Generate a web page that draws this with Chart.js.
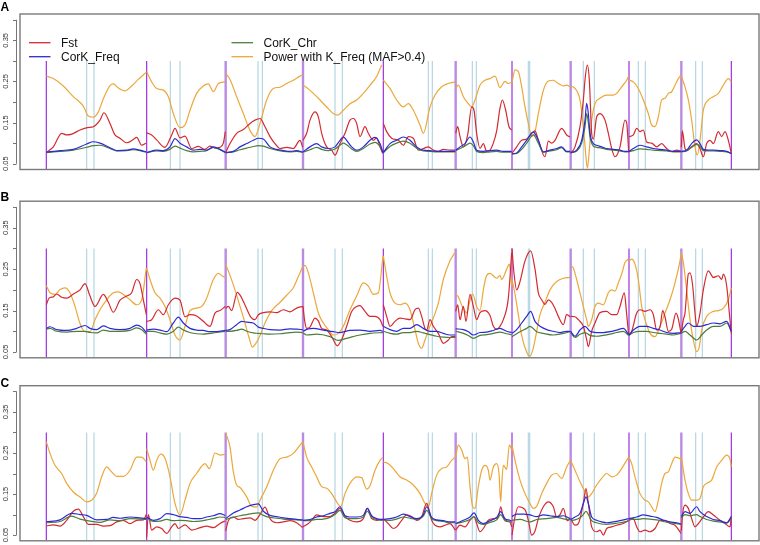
<!DOCTYPE html>
<html><head><meta charset="utf-8">
<script src="https://cdn.jsdelivr.net/npm/chart.js@4.4.1/dist/chart.umd.min.js"></script>
<style>
html,body{margin:0;padding:0;background:#fff;width:760px;height:545px;overflow:hidden;position:relative}
canvas{position:absolute;left:0}
</style></head><body>
<canvas id="cA" width="760" height="180" style="top:0px"></canvas>
<canvas id="cB" width="760" height="182" style="top:180px"></canvas>
<canvas id="cC" width="760" height="183" style="top:362px"></canvas>
<script>
// ---------- DATA ----------
const panelLetters = ['A','B','C'];
const seriesNames = ['Fst','CorK_Freq','CorK_Chr','Power with K_Freq (MAF>0.4)'];
const chrBoundaries = [0,301,538,770,1011,1228,1397,1573,1748,1905,2055]; // Mb, cumulative
const centromeres = [121,143,372,401,635,648,866,888,1146,1158,1278,1290,1446,1450,1611,1644,1776,1797,1948,1968];
const yTicks = [0.05,0.10,0.15,0.20,0.25,0.30,0.35,0.40];
const yTickLabels = ['0.05','0.15','0.25','0.35'];

// Panel A
const A_fst = [
[[0,.078],[21,.091],[46,.124],[61,.12],[76,.122],[101,.132],[123,.138],[141,.14],[161,.156],[173,.174],[191,.148],[206,.12],[221,.112],[241,.101],[261,.109],[271,.114],[286,.095],[299,.10]],
[[301,.125],[316,.12],[331,.108],[356,.09],[376,.12],[386,.136],[401,.113],[416,.117],[436,.087],[456,.092],[476,.085],[491,.093],[506,.088],[521,.09],[531,.1],[537,.128]],
[[538,.077],[551,.099],[571,.124],[591,.133],[611,.148],[626,.156],[641,.16],[656,.14],[671,.116],[686,.099],[701,.087],[721,.09],[741,.087],[761,.107],[769,.09]],
[[770,.107],[781,.124],[791,.156],[806,.176],[816,.164],[826,.124],[841,.091],[856,.083],[866,.071],[881,.099],[896,.124],[911,.156],[921,.16],[931,.148],[941,.116],[956,.14],[966,.124],[981,.107],[991,.113],[1001,.091],[1009,.075]],
[[1011,.148],[1021,.128],[1036,.112],[1056,.107],[1071,.095],[1086,.116],[1101,.112],[1116,.083],[1131,.087],[1146,.091],[1161,.083],[1176,.08],[1191,.085],[1211,.083],[1226,.083]],
[[1228,.124],[1234,.14],[1241,.116],[1251,.091],[1264,.12],[1276,.188],[1283,.18],[1291,.124],[1301,.087],[1311,.099],[1321,.08],[1331,.083],[1341,.1],[1351,.13],[1361,.185],[1368,.205],[1378,.18],[1388,.14],[1396,.132]],
[[1397,.075],[1411,.091],[1426,.107],[1441,.11],[1456,.124],[1466,.13],[1476,.107],[1496,.067],[1506,.105],[1516,.1],[1526,.107],[1546,.136],[1561,.12],[1571,.115]],
[[1573,.075],[1586,.091],[1601,.14],[1611,.205],[1617,.262],[1623,.29],[1629,.253],[1636,.124],[1641,.11],[1651,.164],[1661,.172],[1676,.156],[1686,.124],[1696,.087],[1706,.067],[1721,.091],[1736,.156],[1741,.15],[1747,.08]],
[[1748,.116],[1761,.12],[1771,.136],[1781,.128],[1791,.132],[1801,.103],[1816,.1],[1831,.091],[1846,.099],[1861,.087],[1876,.08],[1891,.083],[1904,.08]],
[[1905,.09],[1908,.13],[1916,.087],[1921,.083],[1936,.091],[1951,.099],[1961,.087],[1971,.067],[1981,.099],[1991,.107],[2001,.099],[2016,.128],[2026,.116],[2036,.128],[2046,.107],[2055,.075]]
];
const A_freq = [
[[0,.078],[41,.082],[81,.085],[121,.098],[141,.1035],[161,.10],[191,.089],[211,.082],[241,.083],[261,.086],[281,.083],[299,.079]],
[[301,.077],[331,.083],[351,.082],[371,.091],[386,.111],[401,.10],[421,.091],[441,.083],[461,.085],[481,.083],[501,.091],[521,.085],[537,.078]],
[[538,.077],[561,.08],[581,.091],[601,.099],[621,.107],[636,.112],[651,.11],[671,.091],[691,.085],[711,.082],[731,.08],[751,.082],[769,.078]],
[[770,.079],[791,.091],[811,.099],[826,.091],[846,.087],[866,.091],[881,.107],[891,.115],[901,.107],[916,.091],[931,.083],[951,.091],[971,.107],[986,.114],[1001,.099],[1010,.077]],
[[1011,.077],[1031,.099],[1051,.107],[1071,.115],[1091,.107],[1111,.091],[1131,.083],[1151,.082],[1171,.08],[1191,.08],[1211,.08],[1227,.08]],
[[1228,.083],[1241,.091],[1256,.099],[1271,.115],[1281,.103],[1291,.083],[1311,.08],[1331,.082],[1351,.083],[1371,.08],[1396,.08]],
[[1397,.074],[1411,.076],[1426,.091],[1441,.107],[1461,.127],[1476,.107],[1491,.079],[1511,.083],[1531,.087],[1546,.091],[1561,.08],[1572,.08]],
[[1573,.077],[1591,.083],[1606,.107],[1616,.156],[1621,.197],[1626,.172],[1631,.124],[1641,.099],[1651,.095],[1666,.091],[1681,.087],[1701,.085],[1721,.083],[1736,.08],[1747,.08]],
[[1748,.08],[1761,.087],[1781,.095],[1801,.091],[1821,.087],[1841,.085],[1861,.083],[1881,.08],[1904,.08]],
[[1905,.08],[1921,.083],[1936,.099],[1951,.108],[1961,.099],[1971,.085],[1986,.083],[2001,.083],[2021,.082],[2041,.08],[2055,.075]]
];
const A_chr = [
[[0,.077],[41,.08],[81,.083],[121,.09],[141,.094],[161,.095],[191,.087],[211,.081],[241,.082],[261,.084],[281,.082],[299,.078]],
[[301,.077],[331,.081],[351,.08],[371,.085],[386,.093],[401,.088],[421,.082],[441,.079],[461,.08],[481,.082],[501,.09],[521,.084],[537,.077]],
[[538,.077],[561,.079],[581,.084],[601,.088],[621,.092],[636,.094],[651,.093],[671,.087],[691,.083],[711,.08],[731,.079],[751,.08],[769,.078]],
[[770,.078],[791,.084],[811,.09],[826,.085],[846,.082],[866,.086],[881,.095],[891,.1],[901,.096],[916,.086],[931,.08],[951,.087],[971,.098],[986,.102],[1001,.092],[1010,.077]],
[[1011,.077],[1031,.092],[1051,.1],[1071,.105],[1091,.1],[1111,.088],[1131,.081],[1151,.08],[1171,.079],[1191,.079],[1211,.079],[1227,.079]],
[[1228,.082],[1241,.087],[1256,.093],[1271,.1],[1281,.094],[1291,.08],[1311,.077],[1331,.079],[1351,.08],[1371,.078],[1396,.078]],
[[1397,.074],[1411,.075],[1426,.085],[1441,.1],[1461,.12],[1476,.1],[1491,.078],[1511,.081],[1531,.084],[1546,.089],[1561,.079],[1572,.079]],
[[1573,.077],[1591,.081],[1606,.1],[1616,.14],[1621,.172],[1626,.15],[1631,.115],[1641,.093],[1651,.09],[1666,.088],[1681,.085],[1701,.083],[1721,.081],[1736,.079],[1747,.079]],
[[1748,.079],[1761,.082],[1781,.086],[1801,.085],[1821,.083],[1841,.082],[1861,.081],[1881,.079],[1904,.079]],
[[1905,.079],[1921,.081],[1936,.09],[1951,.097],[1961,.092],[1971,.082],[1986,.081],[2001,.081],[2021,.08],[2041,.079],[2055,.075]]
];
const A_pow = [
[[0,.263],[21,.257],[51,.239],[81,.213],[111,.19],[126,.166],[141,.163],[156,.176],[171,.208],[191,.24],[201,.244],[216,.234],[236,.227],[256,.239],[276,.255],[299,.272]],
[[301,.274],[316,.249],[331,.233],[351,.229],[366,.213],[381,.172],[401,.138],[416,.144],[431,.18],[451,.221],[471,.239],[486,.244],[501,.225],[516,.245],[536,.249]],
[[538,.27],[551,.255],[571,.213],[591,.172],[606,.14],[616,.124],[626,.116],[641,.148],[661,.205],[681,.233],[701,.236],[721,.245],[741,.253],[761,.263],[769,.266]],
[[770,.241],[786,.232],[801,.221],[821,.205],[841,.188],[861,.172],[873,.168],[891,.18],[911,.196],[931,.205],[951,.221],[971,.241],[991,.262],[1006,.29]],
[[1011,.253],[1031,.233],[1051,.205],[1071,.188],[1086,.196],[1101,.18],[1121,.144],[1131,.124],[1151,.188],[1166,.217],[1186,.237],[1206,.245],[1226,.249]],
[[1228,.233],[1236,.241],[1251,.213],[1266,.196],[1276,.188],[1286,.205],[1301,.241],[1316,.253],[1331,.257],[1346,.263],[1361,.235],[1376,.25],[1386,.245],[1396,.248]],
[[1397,.247],[1406,.278],[1416,.274],[1426,.237],[1436,.188],[1446,.148],[1456,.116],[1466,.128],[1476,.172],[1491,.228],[1506,.251],[1521,.253],[1536,.245],[1551,.239],[1561,.241],[1572,.237]],
[[1573,.239],[1586,.233],[1601,.205],[1611,.14],[1618,.075],[1623,.039],[1629,.083],[1636,.156],[1646,.196],[1661,.209],[1681,.217],[1701,.217],[1711,.221],[1726,.237],[1741,.253],[1747,.263]],
[[1748,.253],[1761,.249],[1776,.233],[1791,.205],[1806,.172],[1816,.144],[1826,.14],[1836,.164],[1846,.205],[1856,.209],[1866,.221],[1876,.225],[1886,.241],[1896,.257],[1904,.266]],
[[1905,.263],[1916,.237],[1926,.205],[1936,.156],[1946,.091],[1953,.071],[1961,.107],[1971,.18],[1986,.205],[2001,.213],[2016,.221],[2031,.241],[2046,.257],[2055,.249]]
];

// Panel B
const B_fst = [
[[0,.164],[8,.18],[21,.183],[31,.19],[46,.182],[61,.18],[81,.19],[101,.2],[116,.215],[131,.185],[146,.16],[171,.189],[186,.17],[201,.146],[221,.175],[241,.185],[256,.193],[271,.225],[281,.215],[291,.176],[300,.14]],
[[301,.124],[316,.128],[336,.152],[351,.14],[366,.164],[386,.18],[401,.175],[416,.135],[431,.14],[451,.137],[471,.124],[491,.112],[506,.144],[521,.15],[537,.16]],
[[538,.155],[546,.16],[556,.15],[573,.194],[583,.185],[598,.16],[613,.135],[626,.128],[636,.14],[651,.145],[671,.147],[691,.145],[711,.152],[731,.147],[751,.156],[769,.16]],
[[770,.16],[775,.125],[781,.107],[791,.11],[806,.132],[816,.125],[826,.107],[841,.103],[856,.087],[873,.065],[886,.08],[901,.112],[916,.148],[931,.16],[941,.162],[956,.148],[971,.136],[986,.136],[1001,.128],[1010,.112]],
[[1011,.164],[1021,.136],[1031,.112],[1046,.124],[1061,.132],[1076,.13],[1091,.128],[1106,.152],[1116,.156],[1126,.136],[1136,.107],[1141,.103],[1151,.128],[1161,.112],[1176,.095],[1191,.071],[1206,.079],[1216,.087],[1227,.087]],
[[1228,.148],[1234,.164],[1241,.128],[1251,.16],[1259,.124],[1271,.189],[1281,.16],[1291,.128],[1301,.145],[1316,.15],[1331,.138],[1341,.112],[1351,.105],[1361,.112],[1371,.128],[1386,.18],[1396,.29]],
[[1397,.30],[1403,.24],[1411,.2],[1421,.22],[1436,.27],[1453,.294],[1466,.25],[1476,.193],[1486,.176],[1496,.165],[1506,.176],[1516,.17],[1526,.155],[1536,.136],[1551,.116],[1561,.14],[1572,.135]],
[[1573,.136],[1586,.135],[1596,.128],[1611,.112],[1621,.08],[1626,.063],[1636,.1],[1646,.12],[1661,.145],[1681,.148],[1696,.14],[1711,.14],[1721,.16],[1734,.193],[1740,.15],[1747,.09]],
[[1748,.092],[1756,.1],[1771,.144],[1781,.152],[1796,.148],[1811,.152],[1821,.14],[1831,.103],[1841,.11],[1849,.15],[1856,.135],[1866,.1],[1876,.105],[1889,.144],[1896,.13],[1904,.095]],
[[1905,.095],[1911,.128],[1916,.144],[1926,.238],[1931,.241],[1939,.21],[1946,.144],[1951,.112],[1961,.144],[1971,.2],[1986,.246],[2001,.23],[2016,.234],[2026,.225],[2031,.238],[2041,.21],[2049,.144],[2055,.095]]
];
const B_freq = [
[[0,.107],[11,.111],[31,.104],[61,.102],[91,.107],[116,.114],[131,.107],[151,.104],[171,.113],[191,.107],[221,.104],[251,.107],[271,.115],[286,.11],[300,.097]],
[[301,.103],[321,.105],[341,.103],[361,.099],[381,.12],[396,.134],[411,.12],[431,.107],[451,.103],[471,.102],[491,.099],[511,.099],[537,.102]],
[[538,.102],[551,.104],[571,.116],[586,.124],[601,.122],[621,.12],[636,.11],[651,.107],[671,.104],[701,.103],[731,.106],[751,.105],[769,.104]],
[[770,.1],[786,.106],[801,.107],[831,.103],[861,.099],[881,.097],[911,.102],[941,.103],[971,.1],[1001,.102],[1010,.1]],
[[1011,.112],[1031,.104],[1051,.1],[1071,.107],[1091,.107],[1111,.116],[1131,.107],[1151,.1],[1171,.1],[1191,.095],[1211,.091],[1227,.091]],
[[1228,.106],[1251,.104],[1266,.099],[1281,.091],[1301,.097],[1321,.098],[1341,.102],[1361,.107],[1381,.1],[1396,.097]],
[[1397,.095],[1411,.104],[1426,.12],[1441,.136],[1453,.148],[1466,.124],[1481,.112],[1501,.104],[1521,.1],[1541,.097],[1561,.1],[1572,.1]],
[[1573,.1],[1586,.088],[1601,.103],[1616,.112],[1631,.1],[1651,.097],[1671,.097],[1691,.099],[1711,.103],[1731,.107],[1747,.092]],
[[1748,.091],[1761,.103],[1781,.112],[1801,.112],[1821,.107],[1841,.103],[1861,.097],[1881,.095],[1904,.097]],
[[1905,.1],[1916,.112],[1926,.12],[1941,.112],[1961,.112],[1981,.116],[2001,.12],[2021,.118],[2041,.124],[2055,.1]]
];
const B_chr = [
[[0,.105],[11,.107],[31,.1],[61,.098],[91,.1],[116,.1],[131,.097],[151,.096],[171,.103],[191,.1],[221,.1],[251,.102],[271,.108],[286,.104],[300,.093]],
[[301,.1],[321,.1],[341,.096],[361,.093],[381,.1],[396,.11],[411,.103],[431,.097],[451,.094],[471,.093],[491,.095],[511,.097],[537,.1]],
[[538,.1],[551,.1],[571,.102],[586,.105],[601,.1],[621,.096],[636,.095],[651,.094],[671,.093],[701,.094],[731,.097],[751,.098],[769,.097]],
[[770,.096],[781,.091],[811,.093],[851,.087],[876,.078],[901,.083],[941,.091],[971,.095],[1010,.097]],
[[1011,.1],[1031,.095],[1051,.093],[1071,.097],[1091,.097],[1111,.1],[1131,.096],[1151,.092],[1171,.088],[1191,.086],[1211,.085],[1227,.085]],
[[1228,.1],[1251,.095],[1266,.09],[1281,.083],[1301,.09],[1321,.092],[1341,.095],[1361,.098],[1381,.094],[1396,.092]],
[[1397,.087],[1421,.099],[1441,.107],[1451,.112],[1471,.099],[1491,.095],[1521,.091],[1551,.095],[1572,.099]],
[[1573,.097],[1586,.085],[1601,.093],[1616,.097],[1631,.09],[1651,.088],[1671,.09],[1691,.093],[1711,.097],[1731,.1],[1747,.09]],
[[1748,.09],[1761,.097],[1781,.1],[1801,.1],[1821,.097],[1841,.095],[1861,.093],[1881,.091],[1904,.095]],
[[1905,.095],[1916,.1],[1931,.091],[1951,.079],[1966,.091],[1981,.103],[2001,.112],[2021,.112],[2041,.12],[2055,.1]]
];
const B_pow = [
[[0,.21],[11,.193],[26,.189],[41,.201],[56,.205],[71,.193],[86,.16],[101,.119],[116,.099],[131,.099],[146,.128],[161,.152],[181,.176],[201,.193],[216,.195],[231,.189],[251,.176],[271,.164],[286,.176],[300,.253]],
[[301,.253],[311,.225],[326,.193],[341,.18],[356,.16],[371,.128],[386,.091],[401,.079],[416,.112],[431,.15],[451,.156],[466,.16],[481,.18],[501,.225],[516,.24],[529,.233],[537,.23]],
[[538,.262],[551,.235],[566,.2],[581,.16],[596,.12],[608,.085],[618,.062],[628,.07],[641,.09],[656,.12],[676,.15],[701,.17],[721,.187],[741,.205],[756,.232],[769,.256]],
[[770,.256],[776,.259],[786,.241],[801,.193],[816,.144],[831,.12],[846,.104],[861,.091],[876,.095],[891,.112],[911,.152],[931,.185],[951,.217],[966,.209],[981,.189],[996,.193],[1010,.282]],
[[1011,.282],[1021,.233],[1031,.193],[1046,.168],[1061,.164],[1076,.168],[1091,.152],[1106,.104],[1116,.071],[1126,.059],[1136,.079],[1151,.112],[1161,.132],[1176,.168],[1191,.225],[1211,.27],[1226,.29]],
[[1228,.19],[1236,.183],[1248,.16],[1261,.145],[1271,.175],[1279,.19],[1291,.16],[1301,.15],[1311,.2],[1321,.235],[1331,.24],[1351,.228],[1361,.235],[1366,.225],[1381,.25],[1389,.262],[1396,.21]],
[[1397,.225],[1406,.19],[1416,.14],[1426,.09],[1441,.05],[1451,.04],[1461,.06],[1471,.1],[1481,.14],[1496,.17],[1511,.2],[1531,.22],[1551,.228],[1571,.23]],
[[1573,.258],[1581,.253],[1591,.225],[1606,.176],[1621,.128],[1626,.112],[1636,.128],[1646,.16],[1656,.168],[1671,.164],[1686,.193],[1696,.2],[1706,.197],[1716,.217],[1726,.238],[1736,.266],[1746,.274]],
[[1748,.27],[1756,.274],[1766,.262],[1776,.225],[1786,.16],[1796,.128],[1811,.095],[1826,.087],[1841,.112],[1856,.144],[1871,.176],[1886,.217],[1901,.27],[1904,.286]],
[[1905,.29],[1911,.266],[1921,.2],[1931,.128],[1941,.079],[1951,.051],[1959,.063],[1966,.103],[1981,.136],[2001,.148],[2016,.15],[2031,.156],[2046,.176],[2055,.205]]
];

// Panel C
const C_fst = [
[[0,.072],[21,.075],[41,.072],[61,.086],[81,.108],[96,.113],[111,.095],[126,.076],[151,.076],[171,.072],[191,.073],[211,.082],[231,.086],[251,.078],[271,.086],[291,.087],[300,.1]],
[[301,.045],[306,.1],[316,.062],[331,.07],[346,.066],[361,.054],[376,.07],[386,.078],[396,.066],[416,.075],[436,.062],[461,.068],[481,.072],[501,.068],[521,.078],[537,.085]],
[[538,.06],[546,.085],[561,.094],[576,.088],[591,.09],[611,.092],[626,.086],[641,.1],[656,.118],[671,.09],[691,.08],[711,.082],[731,.085],[751,.08],[769,.068]],
[[770,.07],[786,.078],[796,.086],[811,.099],[831,.095],[851,.095],[866,.103],[881,.115],[896,.095],[911,.086],[931,.082],[951,.09],[963,.115],[976,.09],[991,.086],[1010,.088]],
[[1011,.09],[1026,.078],[1041,.066],[1051,.07],[1066,.086],[1081,.099],[1096,.095],[1111,.086],[1126,.095],[1141,.127],[1156,.086],[1166,.074],[1181,.07],[1196,.074],[1211,.078],[1227,.062]],
[[1228,.062],[1241,.074],[1256,.07],[1271,.086],[1283,.094],[1291,.078],[1301,.058],[1311,.066],[1326,.086],[1341,.09],[1356,.094],[1363,.119],[1371,.094],[1381,.085],[1391,.082],[1396,.07]],
[[1397,.05],[1406,.095],[1416,.119],[1436,.112],[1446,.086],[1456,.05],[1466,.06],[1476,.09],[1491,.119],[1506,.131],[1521,.119],[1531,.094],[1541,.1],[1551,.115],[1563,.085],[1572,.09]],
[[1573,.09],[1586,.074],[1596,.078],[1611,.127],[1619,.163],[1626,.127],[1636,.07],[1651,.058],[1661,.062],[1671,.05],[1681,.066],[1696,.07],[1711,.074],[1731,.078],[1747,.086]],
[[1748,.086],[1761,.09],[1771,.07],[1781,.058],[1796,.062],[1811,.058],[1826,.066],[1841,.086],[1856,.086],[1871,.078],[1886,.074],[1904,.054]],
[[1905,.06],[1909,.103],[1916,.123],[1926,.115],[1936,.09],[1946,.07],[1956,.078],[1971,.094],[1986,.107],[2001,.099],[2021,.086],[2036,.078],[2051,.07],[2055,.095]]
];
const C_freq = [
[[0,.082],[41,.087],[76,.103],[101,.1],[121,.098],[151,.087],[181,.088],[201,.093],[221,.091],[251,.094],[281,.092],[300,.09]],
[[301,.094],[321,.086],[341,.09],[361,.102],[381,.1],[401,.095],[421,.093],[441,.09],[461,.09],[481,.094],[501,.097],[521,.102],[537,.098]],
[[538,.09],[561,.104],[581,.111],[601,.119],[621,.124],[636,.126],[651,.108],[671,.098],[691,.095],[711,.092],[731,.09],[751,.088],[769,.087]],
[[770,.086],[791,.088],[811,.094],[831,.097],[851,.103],[866,.107],[881,.119],[896,.097],[911,.094],[931,.094],[951,.098],[963,.115],[976,.097],[991,.09],[1010,.088]],
[[1011,.088],[1031,.09],[1051,.094],[1071,.101],[1091,.095],[1111,.09],[1131,.1],[1141,.119],[1156,.093],[1171,.087],[1191,.085],[1211,.082],[1227,.082]],
[[1228,.078],[1251,.086],[1271,.094],[1283,.104],[1296,.086],[1311,.078],[1331,.085],[1351,.093],[1363,.107],[1376,.09],[1391,.086],[1396,.084]],
[[1397,.095],[1411,.101],[1431,.101],[1451,.099],[1471,.095],[1491,.099],[1511,.097],[1531,.095],[1551,.097],[1572,.09]],
[[1573,.088],[1586,.094],[1601,.103],[1611,.127],[1619,.143],[1626,.127],[1636,.094],[1651,.086],[1666,.082],[1681,.08],[1701,.082],[1721,.085],[1747,.09]],
[[1748,.09],[1771,.094],[1791,.099],[1811,.096],[1831,.093],[1851,.086],[1871,.082],[1891,.08],[1904,.077]],
[[1905,.095],[1916,.107],[1931,.103],[1951,.119],[1961,.107],[1981,.095],[2001,.088],[2021,.085],[2041,.08],[2055,.095]]
];
const C_chr = [
[[0,.08],[41,.083],[76,.096],[101,.089],[131,.084],[161,.081],[191,.087],[221,.085],[251,.09],[281,.089],[300,.088]],
[[301,.092],[321,.083],[341,.084],[361,.088],[381,.085],[401,.086],[421,.085],[441,.083],[461,.084],[481,.087],[501,.09],[521,.094],[537,.093]],
[[538,.088],[561,.093],[581,.097],[601,.1],[621,.103],[636,.104],[651,.098],[671,.093],[691,.091],[711,.089],[731,.088],[751,.087],[769,.086]],
[[770,.085],[791,.086],[811,.088],[831,.089],[851,.093],[866,.1],[881,.11],[896,.092],[911,.09],[931,.09],[951,.094],[963,.108],[976,.093],[991,.088],[1010,.086]],
[[1011,.087],[1031,.086],[1051,.089],[1071,.094],[1091,.091],[1111,.088],[1131,.096],[1141,.11],[1156,.09],[1171,.085],[1191,.083],[1211,.08],[1227,.08]],
[[1228,.078],[1251,.082],[1271,.088],[1283,.095],[1296,.08],[1311,.076],[1331,.081],[1351,.087],[1363,.1],[1376,.085],[1391,.082],[1396,.081]],
[[1397,.086],[1421,.088],[1451,.082],[1471,.088],[1501,.09],[1531,.093],[1561,.088],[1572,.088]],
[[1573,.085],[1586,.087],[1601,.092],[1611,.1],[1619,.108],[1626,.1],[1636,.085],[1651,.08],[1666,.077],[1681,.076],[1701,.078],[1721,.08],[1747,.084]],
[[1748,.088],[1771,.088],[1791,.09],[1811,.089],[1831,.087],[1851,.083],[1871,.08],[1891,.078],[1904,.076]],
[[1905,.092],[1916,.1],[1931,.097],[1951,.1],[1961,.095],[1981,.088],[2001,.084],[2021,.082],[2041,.079],[2055,.09]]
];
const C_pow = [
[[0,.277],[11,.249],[26,.22],[46,.2],[61,.176],[81,.155],[101,.143],[121,.131],[136,.135],[151,.152],[166,.192],[181,.216],[196,.204],[211,.193],[231,.193],[251,.208],[271,.24],[286,.24],[300,.228]],
[[301,.26],[311,.232],[321,.208],[331,.232],[343,.247],[356,.237],[371,.192],[386,.127],[401,.099],[416,.135],[431,.176],[451,.2],[476,.224],[489,.212],[506,.25],[521,.245],[537,.247]],
[[538,.299],[551,.265],[561,.204],[571,.172],[581,.166],[601,.143],[616,.12],[631,.118],[641,.135],[661,.167],[681,.208],[701,.236],[721,.24],[741,.249],[761,.269],[769,.277]],
[[770,.277],[781,.24],[796,.216],[811,.192],[826,.168],[841,.164],[856,.151],[871,.131],[883,.119],[896,.151],[911,.176],[931,.192],[946,.19],[961,.162],[971,.17],[986,.208],[1001,.232],[1010,.24]],
[[1011,.228],[1026,.224],[1041,.212],[1061,.192],[1081,.184],[1101,.172],[1121,.151],[1136,.127],[1146,.119],[1156,.151],[1171,.196],[1186,.212],[1201,.216],[1216,.232],[1227,.24]],
[[1228,.24],[1236,.269],[1246,.257],[1256,.236],[1263,.24],[1271,.168],[1279,.119],[1286,.115],[1296,.168],[1306,.208],[1316,.22],[1326,.208],[1331,.184],[1341,.216],[1351,.224],[1358,.2],[1363,.131],[1366,.17],[1371,.22],[1381,.21],[1389,.27],[1396,.258]],
[[1397,.27],[1406,.232],[1421,.184],[1436,.151],[1451,.127],[1461,.115],[1471,.12],[1486,.151],[1501,.176],[1516,.196],[1531,.2],[1546,.188],[1561,.216],[1572,.232]],
[[1573,.232],[1586,.208],[1601,.18],[1616,.156],[1626,.143],[1636,.151],[1651,.172],[1666,.188],[1681,.2],[1696,.192],[1711,.196],[1726,.212],[1741,.232],[1747,.24]],
[[1748,.24],[1756,.224],[1766,.192],[1781,.151],[1796,.135],[1806,.131],[1816,.119],[1826,.107],[1836,.135],[1846,.176],[1856,.2],[1866,.204],[1876,.224],[1886,.24],[1896,.238],[1904,.234]],
[[1905,.24],[1916,.184],[1926,.151],[1936,.135],[1951,.135],[1961,.139],[1971,.168],[1981,.176],[1996,.184],[2011,.216],[2026,.232],[2041,.245],[2051,.235],[2055,.216]]
];

// ---------- STYLE ----------
const COLORS = {fst:'#d42a2f', freq:'#2b2bd6', chr:'#4e7d3a', pow:'#eca73a', chrLine:'#9b30e0', chrLineWide:'#b98be3', cen:'#b5d6e3', frame:'#7a7a7a'};
const Y_MIN = 0.036, Y_MAX = 0.414, X_MIN = -79, X_MAX = 2138, V_TOP = 0.30;
const FONT = '"Liberation Sans", Arial, Helvetica, sans-serif';
const wideBoundaryIdx = [2,3,5,7,9];

function toPoints(chrs){
  const out=[];
  chrs.forEach(c=>{ c.forEach(p=>out.push({x:p[0],y:p[1]})); out.push({x:c[c.length-1][0]+0.3,y:null}); });
  return out;
}
function vlines(xs){
  const out=[];
  xs.forEach(x=>{ out.push({x:x,y:Y_MIN},{x:x,y:V_TOP},{x:x+0.01,y:null}); });
  return out;
}

const framePlugin = {
  id:'frame',
  afterDraw(chart, args, o){
    const ctx=chart.ctx, a=chart.chartArea, y=chart.scales.y;
    ctx.save();
    // box
    ctx.strokeStyle=COLORS.frame; ctx.lineWidth=1.4;
    ctx.strokeRect(a.left, a.top, a.right-a.left, a.bottom-a.top);
    // y axis
    ctx.strokeStyle='#777'; ctx.lineWidth=1;
    const axX=16.5;
    ctx.beginPath();
    ctx.moveTo(axX, y.getPixelForValue(yTicks[0])); ctx.lineTo(axX, y.getPixelForValue(yTicks[yTicks.length-1]));
    yTicks.forEach(t=>{ const py=Math.round(y.getPixelForValue(t))+0.5; ctx.moveTo(axX,py); ctx.lineTo(axX-3.5,py); });
    ctx.stroke();
    ctx.fillStyle='#333'; ctx.font='7.5px '+FONT; ctx.textAlign='center'; ctx.textBaseline='middle';
    yTickLabels.forEach(l=>{ const py=y.getPixelForValue(parseFloat(l)); ctx.save(); ctx.translate(5.5,py); ctx.rotate(-Math.PI/2); ctx.fillText(l,0,0); ctx.restore(); });
    // panel letter
    ctx.fillStyle='#000'; ctx.font='bold 12px '+FONT; ctx.textAlign='left'; ctx.textBaseline='alphabetic';
    ctx.fillText(o.letter, 0.5, o.letterY);
    // legend
    if(o.legend){
      const items=[[0,29,42.7],[1,29,56.7],[2,231.5,42.7],[3,231.5,56.7]];
      const cols=[COLORS.fst,COLORS.freq,COLORS.chr,COLORS.pow];
      ctx.font='12px '+FONT; ctx.textBaseline='middle';
      items.forEach(([i,x,yy])=>{
        ctx.strokeStyle=cols[i]; ctx.lineWidth=1.3;
        ctx.beginPath(); ctx.moveTo(x,yy); ctx.lineTo(x+21.5,yy); ctx.stroke();
        ctx.fillStyle='#111'; ctx.fillText(seriesNames[i], x+32, yy+0.5);
      });
    }
    ctx.restore();
  }
};

function makePanel(id, fst, freq, chr, pow, letter, letterY, legend, pad){
  const thin = chrBoundaries.filter((b,i)=>!wideBoundaryIdx.includes(i));
  const wide = chrBoundaries.filter((b,i)=>wideBoundaryIdx.includes(i));
  const base = {pointRadius:0, fill:false, spanGaps:false, cubicInterpolationMode:'monotone'};
  return new Chart(document.getElementById(id), {
    type:'line',
    data:{datasets:[
      {...base, label:'cen', data:vlines(centromeres), borderColor:COLORS.cen, borderWidth:1.2, order:20, cubicInterpolationMode:'default', tension:0},
      {...base, label:'chrW', data:vlines(wide), borderColor:COLORS.chrLineWide, borderWidth:2.4, order:19, cubicInterpolationMode:'default', tension:0},
      {...base, label:'chrT', data:vlines(thin), borderColor:COLORS.chrLine, borderWidth:1.2, order:18, cubicInterpolationMode:'default', tension:0},
      {...base, label:seriesNames[3], data:toPoints(pow), borderColor:COLORS.pow, borderWidth:1.2, order:5},
      {...base, label:seriesNames[0], data:toPoints(fst), borderColor:COLORS.fst, borderWidth:1.2, order:4},
      {...base, label:seriesNames[2], data:toPoints(chr), borderColor:COLORS.chr, borderWidth:1.2, order:3},
      {...base, label:seriesNames[1], data:toPoints(freq), borderColor:COLORS.freq, borderWidth:1.2, order:2}
    ]},
    options:{
      responsive:false, animation:false, devicePixelRatio:1, events:[],
      layout:{padding:pad},
      plugins:{legend:{display:false}, tooltip:{enabled:false}, frame:{letter, letterY, legend}},
      scales:{
        x:{type:'linear', min:X_MIN, max:X_MAX, display:false},
        y:{type:'linear', min:Y_MIN, max:Y_MAX, display:false}
      }
    },
    plugins:[framePlugin]
  });
}

makePanel('cA', A_fst, A_freq, A_chr, A_pow, panelLetters[0], 11, true, {left:20, right:1, top:14, bottom:10.5});
makePanel('cB', B_fst, B_freq, B_chr, B_pow, panelLetters[1], 20.7, false, {left:20, right:1, top:21.2, bottom:4.2});
makePanel('cC', C_fst, C_freq, C_chr, C_pow, panelLetters[2], 24.7, false, {left:20, right:1, top:23.7, bottom:4.2});
</script>
</body></html>
